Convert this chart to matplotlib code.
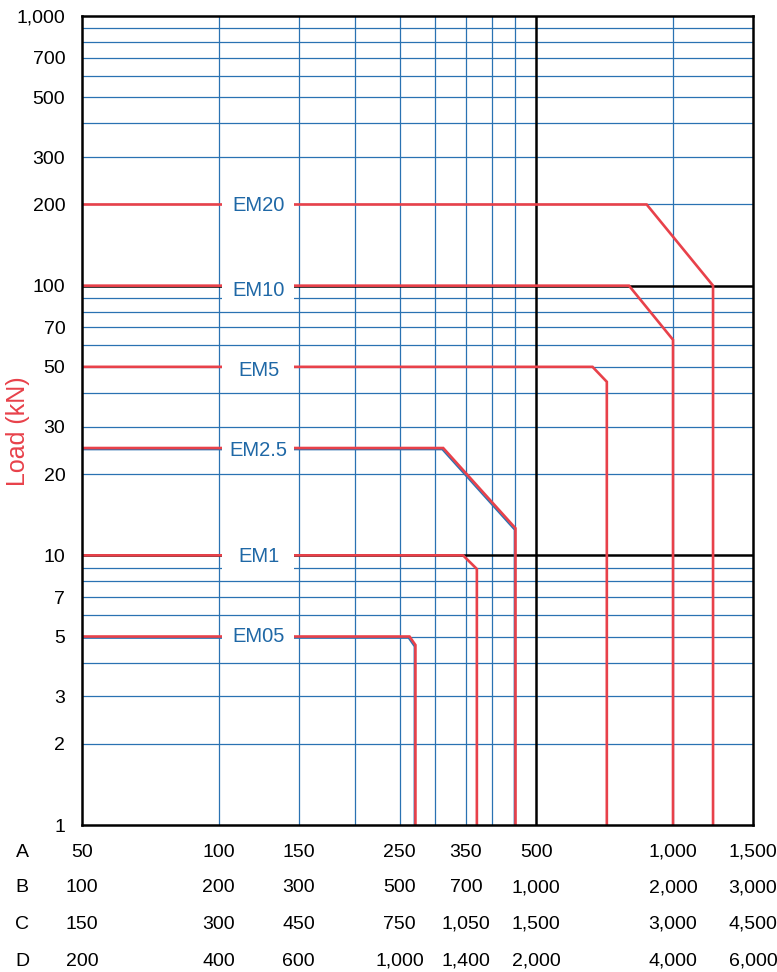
import matplotlib
matplotlib.use("Agg")
import matplotlib.pyplot as plt
import matplotlib.transforms as mtransforms
from matplotlib.patches import Rectangle

plt.rcParams["font.family"] = ["Liberation Sans", "DejaVu Sans"]

# curve data (x in row A units, load in kN)
models = ["EM20", "EM10", "EM5", "EM2.5", "EM1", "EM05"]
curve_x = {
    "EM20": [50, 875, 1225, 1225],
    "EM10": [50, 800, 1000, 1000],
    "EM5": [50, 665, 715, 715],
    "EM2.5": [50, 312, 450, 450],
    "EM1": [50, 345, 370, 370],
    "EM05": [50, 263, 271, 271],
}
curve_y = {
    "EM20": [200, 200, 100, 1],
    "EM10": [100, 100, 63, 1],
    "EM5": [50, 50, 44, 1],
    "EM2.5": [25, 25, 12.6, 1],
    "EM1": [10, 10, 8.9, 1],
    "EM05": [5, 5, 4.65, 1],
}
label_y = {"EM20": 198, "EM10": 96, "EM5": 48.5, "EM2.5": 24.5, "EM1": 9.9, "EM05": 5.0}
shadowed = ["EM2.5", "EM05"]

y_ticks = [1, 2, 3, 5, 7, 10, 20, 30, 50, 70, 100, 200, 300, 500, 700, 1000]
y_grid = [2, 3, 4, 5, 6, 7, 8, 9, 20, 30, 40, 50, 60, 70, 80, 90,
          200, 300, 400, 500, 600, 700, 800, 900]
x_grid = [100, 150, 200, 250, 300, 350, 400, 450, 1000]

row_names = ["A", "B", "C", "D"]
row_pos = [50, 100, 150, 250, 350, 500, 1000, 1500]
row_A = ["50", "100", "150", "250", "350", "500", "1,000", "1,500"]
row_B = ["100", "200", "300", "500", "700", "1,000", "2,000", "3,000"]
row_C = ["150", "300", "450", "750", "1,050", "1,500", "3,000", "4,500"]
row_D = ["200", "400", "600", "1,000", "1,400", "2,000", "4,000", "6,000"]
rows = [row_A, row_B, row_C, row_D]

RED = "#e8414a"
BLUE = "#2a72b2"
TXT_BLUE = "#1f68a6"

fig = plt.figure(figsize=(7.77, 9.72), dpi=100)
ax = fig.add_axes([82 / 777, 147 / 972, 671 / 777, 809 / 972])
ax.set_xscale("log")
ax.set_yscale("log")
ax.set_xlim(50, 1500)
ax.set_ylim(1, 1000)

# grid
for g in y_grid:
    ax.axhline(g, color=BLUE, lw=0.9, zorder=1)
for g in x_grid:
    ax.axvline(g, color=BLUE, lw=0.9, zorder=1)
ax.axhline(10, color="black", lw=1.8, zorder=1.5)
ax.axhline(100, color="black", lw=1.8, zorder=1.5)
ax.axvline(500, color="black", lw=1.8, zorder=1.5)

# curves
for m in models:
    if m in shadowed:
        tr = mtransforms.offset_copy(ax.transData, fig=fig, x=-1.0, y=-1.5, units="dots")
        ax.plot(curve_x[m], curve_y[m], color=BLUE, lw=1.2, zorder=2, transform=tr)
    ax.plot(curve_x[m], curve_y[m], color=RED, lw=1.9, zorder=3, solid_joinstyle="miter")

# labels with white boxes
for m in models:
    yv = label_y[m]
    ax.add_patch(Rectangle((101.5, yv / 1.13), 146.5 - 101.5, yv * 1.15 - yv / 1.13,
                           facecolor="white", edgecolor="none", zorder=4))
    ax.text(122.5, yv, m, color=TXT_BLUE, fontsize=14.5, ha="center", va="center", zorder=5)

ax.set_xticks([])
ax.set_xticks([], minor=True)
ax.set_yticks(y_ticks)
ax.set_yticklabels([f"{v:,}" for v in y_ticks])
ax.set_yticks([], minor=True)
ax.tick_params(axis="y", length=0, pad=12, labelsize=14)
for s in ax.spines.values():
    s.set_linewidth(1.8)
    s.set_color("black")
    s.set_zorder(6)

fig.text(18 / 777, 1 - 431 / 972, "Load (kN)", rotation=90, color=RED,
         fontsize=18, ha="center", va="center")

# scale table below the axes
trans = mtransforms.blended_transform_factory(ax.transData, fig.transFigure)
row_ys = [852, 888, 924, 961]
for name, labels, ypx in zip(row_names, rows, row_ys):
    yf = 1 - ypx / 972
    fig.text(22 / 777, yf, name, fontsize=14, ha="center", va="center")
    for xp, lab in zip(row_pos, labels):
        ax.text(xp, yf, lab, transform=trans, fontsize=14, ha="center", va="center",
                clip_on=False)

fig.savefig("out.png", dpi=100)
